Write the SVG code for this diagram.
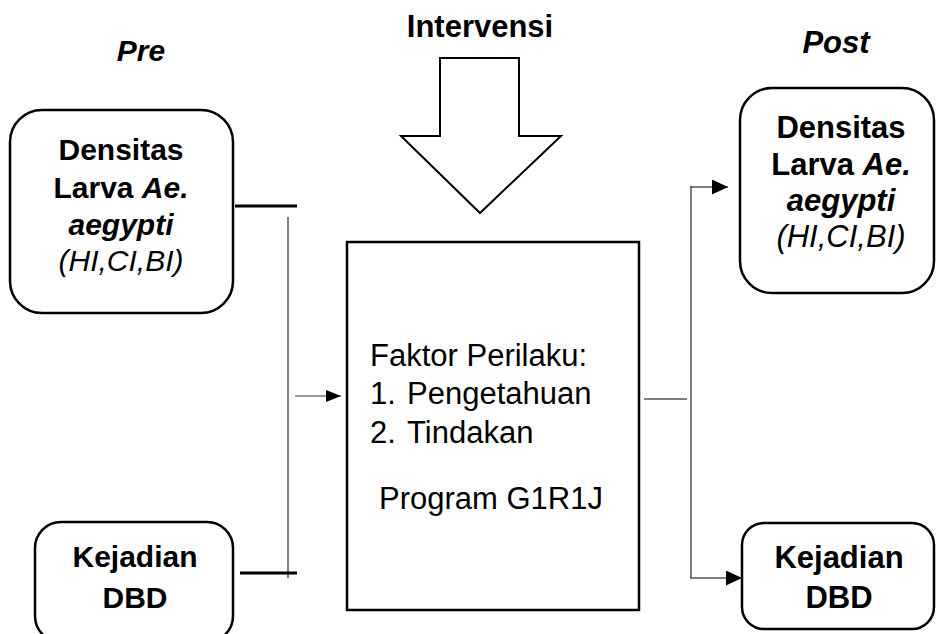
<svg xmlns="http://www.w3.org/2000/svg" width="936" height="634" viewBox="0 0 936 634">
<defs>
<style>
.box{fill:#fff;stroke:#000;stroke-width:2.5}
.b{font-family:"Liberation Sans",Arial,sans-serif;font-size:31px;font-weight:bold;fill:#000}
.r{font-family:"Liberation Sans",Arial,sans-serif;font-size:31px;fill:#000}
.bi{font-style:italic}
.ri{font-family:"Liberation Sans",Arial,sans-serif;font-size:31px;font-style:italic;font-weight:normal;fill:#000}
.s30{font-size:30px}
.thick{stroke:#000;stroke-width:3;fill:none}
.thin{stroke:#000;stroke-width:1;fill:none}
.gray{stroke:#555;stroke-width:1.5;fill:none}
</style>
<marker id="ah" viewBox="0 0 10 10" refX="10" refY="5" markerWidth="15" markerHeight="12" markerUnits="userSpaceOnUse" orient="auto" preserveAspectRatio="none">
<path d="M0,0 L10,5 L0,10 Z" fill="#000"/>
</marker>
<marker id="ah2" viewBox="0 0 10 10" refX="10" refY="5" markerWidth="16" markerHeight="15" markerUnits="userSpaceOnUse" orient="auto" preserveAspectRatio="none">
<path d="M0,0 L10,5 L0,10 Z" fill="#000"/>
</marker>
</defs>
<rect width="936" height="634" fill="#fff"/>

<g id="label-pre"><text class="b bi s30" text-anchor="middle" x="141" y="61">Pre</text></g>
<g id="label-post"><text class="b bi" text-anchor="middle" x="836" y="53">Post</text></g>

<g id="intervensi">
<text class="b" text-anchor="middle" x="480" y="37">Intervensi</text>
<polygon points="440,58 519,58 519,136 561,136 480,213 401,136 440,136" fill="#fff" stroke="#000" stroke-width="2"/>
</g>

<g id="pre-densitas">
<rect class="box" x="10" y="110" width="223" height="203" rx="32"/>
<text class="b s30" text-anchor="middle" x="121" y="160">Densitas</text>
<text class="b s30" text-anchor="middle" x="121" y="198">Larva <tspan class="bi">Ae.</tspan></text>
<text class="b bi s30" text-anchor="middle" x="121" y="235">aegypti</text>
<text class="ri s30" text-anchor="middle" x="121" y="271">(HI,CI,BI)</text>
</g>

<g id="pre-kejadian">
<rect class="box" x="35" y="522" width="198" height="120" rx="26"/>
<text class="b s30" text-anchor="middle" x="135" y="567">Kejadian</text>
<text class="b s30" text-anchor="middle" x="135" y="608">DBD</text>
</g>

<g id="faktor">
<rect class="box" x="347" y="242" width="292" height="368"/>
<text class="r" x="370" y="366">Faktor Perilaku:</text>
<text class="r" x="370" y="404">1.<tspan x="407">Pengetahuan</tspan></text>
<text class="r" x="370" y="443">2.<tspan x="407">Tindakan</tspan></text>
<text class="r" x="379" y="509">Program G1R1J</text>
</g>

<g id="post-densitas">
<rect class="box" x="740" y="88" width="194" height="205" rx="32"/>
<text class="b" text-anchor="middle" x="841" y="138">Densitas</text>
<text class="b" text-anchor="middle" x="841" y="175">Larva <tspan class="bi">Ae.</tspan></text>
<text class="b bi" text-anchor="middle" x="841" y="211">aegypti</text>
<text class="ri" text-anchor="middle" x="841" y="247">(HI,CI,BI)</text>
</g>

<g id="post-kejadian">
<rect class="box" x="742" y="523" width="192" height="106" rx="22"/>
<text class="b" text-anchor="middle" x="839" y="568">Kejadian</text>
<text class="b" text-anchor="middle" x="839" y="608">DBD</text>
</g>

<g id="connectors">
<line class="thick" x1="235" y1="206" x2="297" y2="206"/>
<line class="thick" x1="240" y1="573" x2="297" y2="573"/>
<line class="thin" x1="288" y1="217" x2="288" y2="578"/>
<line stroke="#777" stroke-width="1.5" x1="295" y1="396" x2="341" y2="396" marker-end="url(#ah)"/>
<line class="gray" x1="644" y1="399" x2="687" y2="399"/>
<line class="gray" x1="691" y1="186" x2="691" y2="578"/>
<line class="gray" x1="690" y1="187" x2="728" y2="187" marker-end="url(#ah2)"/>
<line class="gray" x1="690" y1="578" x2="742" y2="578" marker-end="url(#ah2)"/>
</g>
</svg>
